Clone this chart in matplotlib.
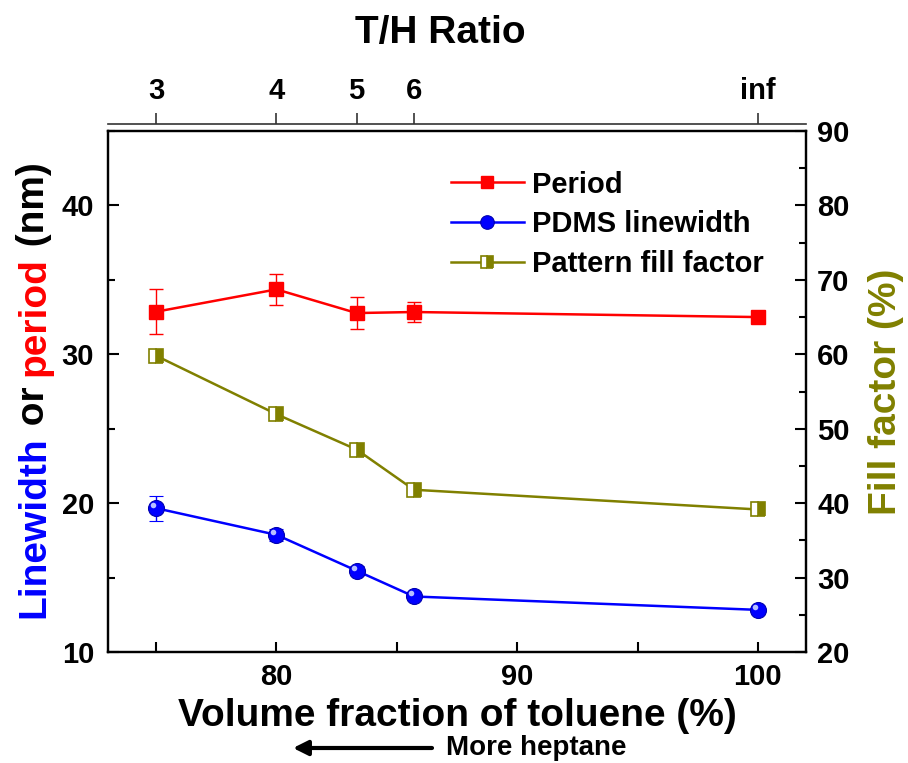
import matplotlib
matplotlib.use("Agg")
import matplotlib.pyplot as plt
from matplotlib.ticker import MultipleLocator, FixedLocator
from matplotlib.transforms import offset_copy

plt.rcParams["font.family"] = ["Liberation Sans", "DejaVu Sans"]
plt.rcParams["font.weight"] = "bold"

# data
toluene = [75, 80, 83.33, 85.71, 100]
ratio_ticks = [75, 80, 83.33, 85.71, 100]
ratio_labels = ["3", "4", "5", "6", "inf"]
period = [32.86, 34.36, 32.77, 32.84, 32.5]
period_err = [1.5, 1.05, 1.1, 0.7, 0.4]
linewidth = [19.66, 17.87, 15.46, 13.73, 12.83]
linewidth_err = [0.85, 0.4, 0.3, 0.2, 0.2]
fill_factor = [59.8, 51.95, 47.2, 41.8, 39.15]

RED = "#ff0000"
BLUE = "#0000ff"
OLIVE = "#808000"

W, H = 908, 763
fig = plt.figure(figsize=(W / 100, H / 100), dpi=100)
ax = fig.add_axes([108 / W, 1 - 652 / H, (806 - 108) / W, (652 - 131) / H])
ax2 = ax.twinx()

# period (left axis)
eb1 = ax.errorbar(toluene, period, yerr=period_err, color=RED, lw=1.8,
                  marker="s", ms=10.5, mec=RED, elinewidth=1, capsize=5,
                  capthick=1, label="Period", zorder=3)
# linewidth (left axis), sphere-like markers
eb2 = ax.errorbar(toluene, linewidth, yerr=linewidth_err, color=BLUE, lw=1.8,
                  marker="o", ms=11.5, mec="#0000b0", mew=0.8, elinewidth=1,
                  capsize=5, capthick=1, label="PDMS linewidth", zorder=3)
hl = offset_copy(ax.transData, fig=fig, x=-2.2, y=2.2, units="points")
ax.plot(toluene, linewidth, ls="none", marker="o", ms=4, mec="none",
        mfc="#b8c0ff", transform=hl, zorder=4)

# fill factor (right axis)
ff, = ax2.plot(toluene, fill_factor, color=OLIVE, lw=1.8, marker="s", ms=10,
               fillstyle="right", mfc=OLIVE, mfcalt="white", mec=OLIVE,
               mew=1.2, label="Pattern fill factor", zorder=3)

ax.set_xlim(73, 102)
ax.set_ylim(10, 45)
ax2.set_ylim(20, 90)

ax.xaxis.set_major_locator(FixedLocator([80, 90, 100]))
ax.xaxis.set_minor_locator(FixedLocator([75, 85, 95]))
ax.yaxis.set_major_locator(FixedLocator([10, 20, 30, 40]))
ax.yaxis.set_minor_locator(MultipleLocator(5))
ax2.yaxis.set_major_locator(MultipleLocator(10))
ax2.yaxis.set_minor_locator(MultipleLocator(5))

ax.tick_params(axis="x", which="both", direction="in", length=7, width=1.5,
               labelsize=21, pad=8, top=False)
ax.tick_params(axis="y", which="major", direction="in", length=8, width=1.5,
               labelsize=21, pad=10)
ax.tick_params(axis="y", which="minor", direction="in", length=5, width=1.5)
ax2.tick_params(axis="y", which="major", direction="in", length=8, width=1.5,
                labelsize=21, pad=8)
ax2.tick_params(axis="y", which="minor", direction="in", length=5, width=1.5)
for a in (ax, ax2):
    for s in a.spines.values():
        s.set_linewidth(1.6)

# top axis with the T/H ratio, drawn slightly above the frame
ax3 = ax.twiny()
ax3.set_xlim(ax.get_xlim())
ax3.set_xticks(ratio_ticks)
ax3.set_xticklabels(ratio_labels)
for side in ("left", "right", "bottom"):
    ax3.spines[side].set_visible(False)
ax3.spines["top"].set_position(("outward", 5))
ax3.spines["top"].set_linewidth(1.2)
ax3.spines["top"].set_color("#333333")
ax3.tick_params(axis="x", direction="out", length=8, width=1.2,
                color="#333333", labelsize=21, pad=6)
ax3.tick_params(axis="y", left=False, right=False, labelleft=False,
                labelright=False)

fig.text(440 / W, 1 - 33 / H, "T/H Ratio", fontsize=28, ha="center",
         va="center")

# legend (lines only, no error bars)
ax2.legend([eb1[0], eb2[0], ff], ["Period", "PDMS linewidth",
                                  "Pattern fill factor"],
           loc="upper left", bbox_to_anchor=(436 / W, 1 - 156 / H),
           bbox_transform=fig.transFigure, frameon=False, fontsize=21,
           handlelength=2.5, handletextpad=0.3, labelspacing=0.4,
           markerscale=0.85, borderpad=0)

# x label and the note below it
fig.text(457 / W, 1 - 726 / H, "Volume fraction of toluene (%)", fontsize=28,
         ha="center", va="baseline")
fig.text(446 / W, 1 - 748 / H, "More heptane", fontsize=20, ha="left",
         va="center")
ax.annotate("", xy=(293, H - 748), xytext=(432, H - 748),
            xycoords="figure pixels", textcoords="figure pixels",
            arrowprops=dict(arrowstyle="-|>", lw=3, color="black",
                            mutation_scale=22, shrinkA=0, shrinkB=0))

# right label
fig.text(886 / W, 1 - 392 / H, "Fill factor (%)", fontsize=28, color=OLIVE,
         rotation=90, ha="center", va="center")

# multi-coloured left label, built piece by piece
parts = [("Linewidth", BLUE), (" or ", "black"), ("period", RED),
         (" (nm)", "black")]
renderer = fig.canvas.get_renderer()


def text_width(s):
    t = fig.text(0, 0, s + "n", fontsize=28)
    w = t.get_window_extent(renderer).width
    t.remove()
    t = fig.text(0, 0, "n", fontsize=28)
    w -= t.get_window_extent(renderer).width
    t.remove()
    return w


full = "".join(p for p, _ in parts)
total = text_width(full)
y0 = (H - 390) - total / 2
prefix = ""
for s, c in parts:
    off = text_width(prefix) if prefix else 0
    fig.text(44 / W, (y0 + off) / H, s, fontsize=28, color=c, rotation=90,
             rotation_mode="anchor", ha="left", va="baseline")
    prefix += s

fig.savefig("out.png", dpi=100)
